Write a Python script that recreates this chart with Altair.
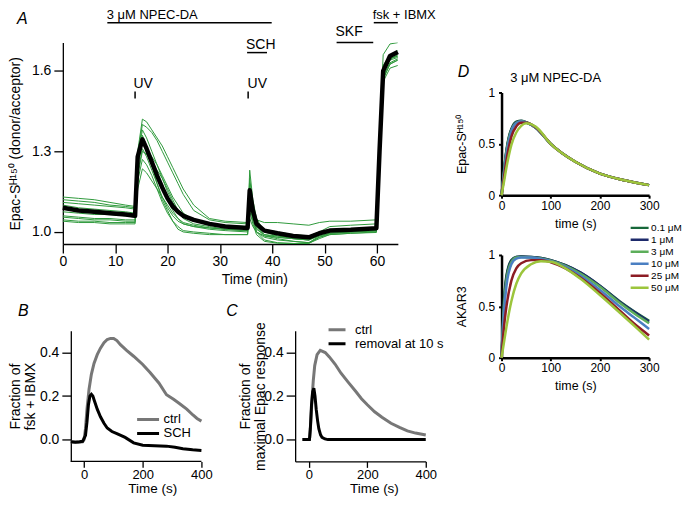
import altair as alt
import pandas as pd

FONT = "Liberation Sans"
GREEN = "#2f9a3c"
GRAY = "#777777"

# ---------------- Panel A (min) ----------------
a_time = [0, 3, 6, 9, 12, 13.8, 14.3, 15.2, 16, 17, 18, 19, 20, 21, 22, 23, 25, 28, 31,
          35.3, 35.7, 36.3, 37, 38.5, 41, 44, 47, 49, 51, 55, 59.9, 60.5, 61.2, 62.5, 64]
a_mean = [1.09, 1.08, 1.075, 1.07, 1.065, 1.06, 1.28, 1.345, 1.31, 1.26, 1.21, 1.165, 1.125, 1.095,
          1.075, 1.06, 1.045, 1.03, 1.02, 1.015, 1.155, 1.08, 1.03, 1.005, 0.995, 0.985, 0.98,
          0.995, 1.005, 1.008, 1.014, 1.30, 1.60, 1.655, 1.67]
a_cells = [
    [1.13, 1.125, 1.12, 1.11, 1.10, 1.095, 1.30, 1.42, 1.41, 1.38, 1.35, 1.32, 1.28, 1.24, 1.20, 1.16,
     1.10, 1.05, 1.04, 1.035, 1.10, 1.06, 1.045, 1.035, 1.035, 1.03, 1.025, 1.035, 1.04, 1.04,
     1.045, 1.35, 1.66, 1.70, 1.705],
    [1.12, 1.115, 1.11, 1.10, 1.095, 1.09, 1.29, 1.40, 1.39, 1.37, 1.34, 1.30, 1.26, 1.22, 1.18, 1.14,
     1.08, 1.045, 1.035, 1.03, 1.20, 1.10, 1.04, 1.01, 1.00, 0.99, 0.985, 1.00, 1.02, 1.025,
     1.03, 1.33, 1.62, 1.66, 1.675],
    [1.11, 1.105, 1.10, 1.095, 1.09, 1.085, 1.28, 1.38, 1.35, 1.30, 1.25, 1.20, 1.15, 1.11, 1.08, 1.06,
     1.04, 1.03, 1.025, 1.02, 1.23, 1.12, 1.05, 1.00, 0.985, 0.975, 0.97, 0.99, 1.005, 1.01,
     1.015, 1.30, 1.60, 1.645, 1.655],
    [1.10, 1.09, 1.085, 1.08, 1.075, 1.07, 1.27, 1.36, 1.32, 1.25, 1.18, 1.12, 1.08, 1.04, 1.01, 1.00,
     0.995, 0.99, 0.99, 0.99, 1.15, 1.06, 1.00, 0.97, 0.96, 0.957, 0.957, 0.98, 0.995, 1.00,
     1.005, 1.28, 1.56, 1.61, 1.62],
    [1.09, 1.085, 1.08, 1.075, 1.07, 1.065, 1.26, 1.35, 1.32, 1.27, 1.22, 1.17, 1.12, 1.08, 1.05, 1.03,
     1.02, 1.01, 1.005, 1.00, 1.18, 1.08, 1.02, 0.99, 0.98, 0.975, 0.97, 0.99, 1.00, 1.005,
     1.01, 1.30, 1.60, 1.645, 1.66],
    [1.075, 1.07, 1.065, 1.065, 1.06, 1.055, 1.25, 1.33, 1.31, 1.28, 1.25, 1.21, 1.17, 1.13, 1.10, 1.07,
     1.045, 1.03, 1.02, 1.015, 1.12, 1.05, 1.01, 0.99, 0.985, 0.98, 0.975, 0.995, 1.005, 1.01,
     1.01, 1.30, 1.60, 1.645, 1.655],
    [1.06, 1.055, 1.05, 1.05, 1.045, 1.045, 1.22, 1.31, 1.28, 1.23, 1.18, 1.13, 1.09, 1.06, 1.04, 1.03,
     1.02, 1.015, 1.01, 1.005, 1.16, 1.07, 1.015, 0.985, 0.975, 0.965, 0.96, 0.985, 0.995, 1.00,
     1.005, 1.29, 1.59, 1.64, 1.65],
    [1.055, 1.05, 1.045, 1.045, 1.04, 1.04, 1.21, 1.30, 1.29, 1.26, 1.23, 1.20, 1.16, 1.12, 1.08, 1.05,
     1.03, 1.02, 1.01, 1.005, 1.10, 1.04, 1.00, 0.98, 0.97, 0.965, 0.96, 0.98, 0.99, 0.995,
     1.00, 1.28, 1.58, 1.63, 1.645],
    [1.045, 1.04, 1.04, 1.035, 1.035, 1.035, 1.19, 1.27, 1.25, 1.21, 1.16, 1.11, 1.07, 1.04, 1.02, 1.005,
     1.00, 0.995, 0.99, 0.99, 1.08, 1.03, 0.99, 0.965, 0.958, 0.957, 0.958, 0.975, 0.99, 0.995,
     0.998, 1.27, 1.57, 1.625, 1.64],
    [1.04, 1.035, 1.035, 1.03, 1.03, 1.03, 1.16, 1.235, 1.22, 1.19, 1.16, 1.13, 1.10, 1.07, 1.05, 1.035,
     1.025, 1.015, 1.01, 1.005, 1.05, 1.02, 1.00, 0.985, 0.98, 0.975, 0.97, 0.985, 0.995, 1.00,
     1.003, 1.27, 1.57, 1.625, 1.64],
]
a_top_labels = ["3 μM NPEC-DA", "fsk + IBMX"]
a_top_label_t = [8.4, 59.2]
a_top_bar_start = [8.5, 59.4]
a_top_bar_end = [39.9, 64.0]
a_sch_t = [35.0, 35.2, 39.0]
a_skf_t = [52.1, 52.3, 59.3]
a_uv_t = [13.5, 35.3]
a_uv_tick_t = [13.8, 35.4]

# ---------------- Panel B (s) ----------------
b_t_ctrl = [-45, -20, -5, 0, 5, 10, 17, 25, 34, 45, 56, 68, 79, 90, 101, 112, 124, 145, 169, 200,
            225, 255, 281, 305, 326, 350, 371, 385, 400]
b_ctrl = [-0.01, -0.012, -0.01, 0.0, 0.05, 0.14, 0.23, 0.30, 0.35, 0.39, 0.42, 0.445, 0.46, 0.465,
          0.465, 0.455, 0.436, 0.41, 0.383, 0.345, 0.308, 0.26, 0.206, 0.185, 0.165, 0.14, 0.113,
          0.097, 0.085]
b_t_sch = [-45, -30, -15, -5, 0, 5, 10, 15, 20, 25, 30, 35, 45, 56, 68, 79, 95, 112, 140, 169, 200,
           240, 281, 310, 337, 370, 400]
b_sch = [-0.01, -0.012, -0.01, -0.008, 0.005, 0.02, 0.08, 0.16, 0.20, 0.208, 0.20, 0.18, 0.14, 0.105,
         0.075, 0.053, 0.037, 0.027, 0.01, -0.015, -0.026, -0.028, -0.03, -0.035, -0.042, -0.047, -0.05]
b_axis_span = [-45, 400]

# ---------------- Panel C (s) ----------------
c_t_ctrl = [-22, 0, 3, 6, 11, 15, 20, 28, 39, 56, 70, 90, 110, 135, 160, 180, 200, 225, 250, 281, 310,
            337, 365, 400]
c_ctrl = [0, 0, 0.01, 0.07, 0.19, 0.27, 0.34, 0.39, 0.41, 0.40, 0.38, 0.346, 0.305, 0.263, 0.222,
          0.188, 0.16, 0.128, 0.103, 0.075, 0.056, 0.04, 0.03, 0.021]
c_t_rem = [-22, 0, 2, 5, 9, 13, 17, 21, 25, 30, 34, 40, 45, 55, 65, 100, 200, 300, 400]
c_rem = [0, 0, 0, 0.05, 0.16, 0.22, 0.236, 0.20, 0.14, 0.085, 0.05, 0.022, 0.01, 0.003, 0, 0, 0, 0, 0]

# ---------------- Panel D (s) ----------------
d_conc = ["0.1 μM", "1 μM", "3 μM", "10 μM", "25 μM", "50 μM"]
d_colors = ["#17683a", "#1d2a6b", "#5cae5a", "#4a7fc2", "#8c1c24", "#9cc53c"]
d_t_epac = [0, 5, 10, 15, 20, 30, 40, 50, 70, 100, 150, 200, 250, 300]
d_epac = [
    [0, 0.24, 0.44, 0.57, 0.645, 0.715, 0.725, 0.71, 0.655, 0.50, 0.325, 0.21, 0.145, 0.098],
    [0, 0.23, 0.43, 0.56, 0.64, 0.71, 0.722, 0.71, 0.655, 0.50, 0.325, 0.21, 0.145, 0.098],
    [0, 0.22, 0.42, 0.55, 0.63, 0.705, 0.72, 0.71, 0.655, 0.50, 0.325, 0.21, 0.145, 0.098],
    [0, 0.21, 0.40, 0.53, 0.62, 0.70, 0.718, 0.708, 0.655, 0.50, 0.325, 0.21, 0.145, 0.098],
    [0, 0.17, 0.34, 0.47, 0.57, 0.67, 0.705, 0.705, 0.66, 0.50, 0.325, 0.21, 0.145, 0.098],
    [0, 0.13, 0.27, 0.39, 0.49, 0.61, 0.675, 0.70, 0.665, 0.50, 0.325, 0.21, 0.145, 0.098],
]
d_t_akar = [0, 5, 10, 20, 30, 40, 60, 80, 100, 130, 160, 200, 240, 270, 300]
d_akar = [
    [0, 0.55, 0.80, 0.95, 0.98, 0.985, 0.98, 0.97, 0.95, 0.90, 0.83, 0.70, 0.55, 0.45, 0.36],
    [0, 0.53, 0.78, 0.945, 0.98, 0.985, 0.98, 0.97, 0.95, 0.90, 0.83, 0.70, 0.545, 0.445, 0.35],
    [0, 0.50, 0.75, 0.93, 0.975, 0.98, 0.975, 0.965, 0.945, 0.895, 0.82, 0.69, 0.535, 0.43, 0.335],
    [0, 0.45, 0.70, 0.91, 0.965, 0.975, 0.975, 0.96, 0.94, 0.885, 0.80, 0.66, 0.50, 0.39, 0.28],
    [0, 0.30, 0.50, 0.75, 0.87, 0.92, 0.95, 0.95, 0.93, 0.87, 0.78, 0.63, 0.46, 0.33, 0.217],
    [0, 0.15, 0.30, 0.55, 0.72, 0.82, 0.91, 0.94, 0.935, 0.87, 0.77, 0.61, 0.44, 0.31, 0.176],
]

# layout spacings (px)
SP_ROW = 14
SP_LEFT = 16
SP_D = -8
SP_DTOP = 17
SP_COLS = 11


def letter(t, dx, dy):
    return alt.Chart(pd.DataFrame({"lab": [t]})).mark_text(
        align="left", baseline="alphabetic", fontSize=16, fontStyle="italic", font=FONT, color="black"
    ).encode(x=alt.value(dx), y=alt.value(dy), text="lab:N")


def note(df, dy, size=14):
    return alt.Chart(df).mark_text(align="left", baseline="alphabetic", fontSize=size, font=FONT,
                                   color="black").encode(x="t:Q", y=alt.value(dy), text="lab:N")


def hbar(df, dy):
    return alt.Chart(df).mark_rule(color="black", strokeWidth=1.5).encode(x="s:Q", x2="e:Q", y=alt.value(dy))


# ---------- A ----------
rows = []
for i, tr in enumerate(a_cells):
    for t, v in zip(a_time, tr):
        rows.append({"t": t, "v": v, "cell": f"c{i}"})
dfA = pd.DataFrame(rows)
dfAm = pd.DataFrame({"t": a_time, "v": a_mean})

xA = alt.X("t:Q", scale=alt.Scale(domain=[0, 64], nice=False, zero=False),
           axis=alt.Axis(values=[0, 10, 20, 30, 40, 50, 60], title="Time (min)", tickSize=9,
                         labelPadding=2, titleX=192, titleY=40, titleBaseline="alphabetic"))
yA = alt.Y("v:Q", scale=alt.Scale(domain=[0.955, 1.705], nice=False, zero=False),
           axis=alt.Axis(values=[1.0, 1.3, 1.6], format=".1f", title="Epac-Sᴴ¹⁵⁰ (donor/acceptor)",
                         tickSize=9, labelPadding=3, titleX=-54, titleBaseline="top"))

greens = alt.Chart(dfA).mark_line(color=GREEN, strokeWidth=1, clip=True).encode(x=xA, y=yA, detail="cell:N")
mean = alt.Chart(dfAm).mark_line(color="black", strokeWidth=4.5, strokeJoin="round").encode(x="t:Q", y="v:Q")

A = alt.layer(
    greens, mean,
    hbar(pd.DataFrame({"s": a_top_bar_start, "e": a_top_bar_end}), -20),
    note(pd.DataFrame({"t": a_top_label_t, "lab": a_top_labels}), -24, 13),
    hbar(pd.DataFrame({"s": [a_sch_t[1]], "e": [a_sch_t[2]]}), 10),
    note(pd.DataFrame({"t": [a_sch_t[0]], "lab": ["SCH"]}), 6),
    hbar(pd.DataFrame({"s": [a_skf_t[1]], "e": [a_skf_t[2]]}), 0),
    note(pd.DataFrame({"t": [a_skf_t[0]], "lab": ["SKF"]}), -7),
    note(pd.DataFrame({"t": a_uv_t, "lab": ["UV", "UV"]}), 46),
    alt.Chart(pd.DataFrame({"t": a_uv_tick_t})).mark_rule(color="black", strokeWidth=1.5).encode(
        x="t:Q", y=alt.value(49), y2=alt.value(56)),
    letter("A", -46, -19),
).properties(width=336, height=202)

# ---------- B ----------
dfB = pd.concat([pd.DataFrame({"t": b_t_ctrl, "v": b_ctrl, "cond": "ctrl"}),
                 pd.DataFrame({"t": b_t_sch, "v": b_sch, "cond": "SCH"})])
xB = alt.X("t:Q", scale=alt.Scale(domain=[-72.2, 400], nice=False, zero=False),
           axis=alt.Axis(values=[0, 200, 400], title="Time (s)", tickSize=6, labelPadding=1, domain=False,
                         labelFontSize=13, titleFontSize=13.5,
                         titleX=89.7, titleY=31, titleBaseline="alphabetic"))
yB = alt.Y("v:Q", scale=alt.Scale(domain=[-0.1, 0.5], nice=False, zero=False),
           axis=alt.Axis(values=[0, 0.2, 0.4], format=".1f", title=["Fraction of", "fsk + IBMX"], offset=-8,
                         tickSize=9, labelPadding=3, titleX=-62, titleBaseline="top", titleLineHeight=15))
colB = alt.Color("cond:N", scale=alt.Scale(domain=["ctrl", "SCH"], range=[GRAY, "black"]),
                 legend=alt.Legend(orient="none", legendX=73, legendY=82.5, title=None, symbolType="stroke",
                                   symbolSize=484, symbolStrokeWidth=3, clipHeight=13, rowPadding=0,
                                   labelOffset=3, labelFontSize=13, labelFont=FONT, padding=0))
bl1 = alt.Chart(dfB).transform_filter("datum.cond == 'ctrl'").mark_line(strokeWidth=3).encode(x=xB, y=yB, color=colB)
bl2 = alt.Chart(dfB).transform_filter("datum.cond == 'SCH'").mark_line(strokeWidth=3).encode(x=xB, y=yB, color=colB)
b_base = alt.Chart(pd.DataFrame({"s": [b_axis_span[0]], "e": [b_axis_span[1]]})).mark_rule(
    color="black", strokeWidth=1.3).encode(x="s:Q", x2="e:Q", y=alt.value(131))
B = alt.layer(bl1, bl2, b_base, letter("B", -45, -15)).properties(width=139, height=131)

# ---------- C ----------
dfC = pd.concat([pd.DataFrame({"t": c_t_ctrl, "v": c_ctrl, "cond2": "ctrl"}),
                 pd.DataFrame({"t": c_t_rem, "v": c_rem, "cond2": "removal at 10 s"})])
xC = alt.X("t:Q", scale=alt.Scale(domain=[-47, 400], nice=False, zero=False),
           axis=alt.Axis(values=[0, 200, 400], title="Time (s)", tickSize=6, labelPadding=1,
                         labelFontSize=13, titleFontSize=13.5,
                         titleX=79, titleY=31, titleBaseline="alphabetic"))
yC = alt.Y("v:Q", scale=alt.Scale(domain=[-0.1, 0.5], nice=False, zero=False),
           axis=alt.Axis(values=[0, 0.2, 0.4], format=".1f", title=["Fraction of", "maximal Epac response"],
                         tickSize=9, labelPadding=3, titleX=-57, titleBaseline="top", titleLineHeight=15))
colC = alt.Color("cond2:N", scale=alt.Scale(domain=["ctrl", "removal at 10 s"], range=[GRAY, "black"]),
                 legend=alt.Legend(orient="none", legendX=32, legendY=-8, title=None, symbolType="stroke",
                                   symbolSize=289, symbolStrokeWidth=3, clipHeight=14, rowPadding=0,
                                   labelOffset=8, labelFontSize=13, labelFont=FONT, padding=0))
cl1 = alt.Chart(dfC).transform_filter("datum.cond2 == 'ctrl'").mark_line(strokeWidth=3).encode(x=xC, y=yC, color=colC)
cl2 = alt.Chart(dfC).transform_filter("datum.cond2 != 'ctrl'").mark_line(strokeWidth=3).encode(x=xC, y=yC, color=colC)
C = alt.layer(cl1, cl2, letter("C", -69, -15)).properties(width=131, height=131)

# ---------- D ----------
rows = []
for c, tr in zip(d_conc, d_epac):
    for t, v in zip(d_t_epac, tr):
        rows.append({"t": t, "v": v, "ce": c})
dfDe = pd.DataFrame(rows)
rows = []
for c, tr in zip(d_conc, d_akar):
    for t, v in zip(d_t_akar, tr):
        rows.append({"t": t, "v": v, "ca": c})
dfDa = pd.DataFrame(rows)


def d_axes(ytitle):
    x = alt.X("t:Q", scale=alt.Scale(domain=[0, 300], nice=False, zero=False),
              axis=alt.Axis(values=[0, 100, 200, 300], title="time (s)", tickSize=3, tickWidth=2,
                            domainWidth=2.5, labelFontSize=12, titleFontSize=12.5, labelPadding=2,
                            titleY=32, titleBaseline="alphabetic"))
    y = alt.Y("v:Q", scale=alt.Scale(domain=[0, 1], nice=False, zero=False),
              axis=alt.Axis(values=[0, 0.5, 1], format="~g", title=ytitle, tickSize=3, tickWidth=2,
                            domainWidth=2.5, labelFontSize=12, titleFontSize=12.5, labelPadding=4,
                            titleX=-46, titleBaseline="top"))
    return x, y


xDe, yDe = d_axes("Epac-Sᴴ¹⁵⁰")
Dtop_lines = alt.Chart(dfDe).mark_line(strokeWidth=2.5, interpolate="monotone").encode(
    x=xDe, y=yDe, color=alt.Color("ce:N", scale=alt.Scale(domain=d_conc, range=d_colors), legend=None))
Dtop = alt.layer(
    Dtop_lines,
    note(pd.DataFrame({"t": [17.5], "lab": ["3 μM NPEC-DA"]}), -11, 13),
    letter("D", -44, -16),
).properties(width=148, height=103)

xDa, yDa = d_axes("AKAR3")
Dbot = alt.Chart(dfDa).mark_line(strokeWidth=2.5, interpolate="monotone").encode(
    x=xDa, y=yDa,
    color=alt.Color("ca:N", scale=alt.Scale(domain=d_conc, range=d_colors),
                    legend=alt.Legend(orient="none", legendX=128, legendY=-33, title=None, symbolType="stroke",
                                      symbolSize=324, symbolStrokeWidth=2.5, clipHeight=11.6, rowPadding=0,
                                      labelOffset=1, labelFontSize=10, labelFont=FONT, padding=0))
).properties(width=148, height=103)

spacer = alt.Chart(pd.DataFrame({"z": [0]})).mark_point(opacity=0).properties(width=1, height=1)

row = alt.hconcat(B, C, spacing=SP_ROW).resolve_scale(color="independent")
leftcol = alt.vconcat(A, row, spacing=SP_LEFT).resolve_scale(color="independent")
dcol = alt.vconcat(Dtop, Dbot, spacing=SP_D).resolve_scale(color="independent")
rightcol = alt.vconcat(spacer, dcol, spacing=SP_DTOP).resolve_scale(color="independent")

chart = alt.hconcat(leftcol, rightcol, spacing=SP_COLS).resolve_scale(color="independent").properties(
    padding={"left": 0, "top": 0, "right": 0, "bottom": 0}, background="white"
).configure_view(stroke=None).configure_axis(
    grid=False, domainColor="black", tickColor="black", labelColor="black", titleColor="black",
    labelFont=FONT, titleFont=FONT, titleFontWeight="normal", labelFontSize=14, titleFontSize=14,
    domainWidth=1.3, tickWidth=1.3, labelFlush=False
).configure_text(font=FONT).configure_legend(labelFont=FONT, labelColor="black")

chart.save("out.html", embed_options={"renderer": "svg", "actions": False})
